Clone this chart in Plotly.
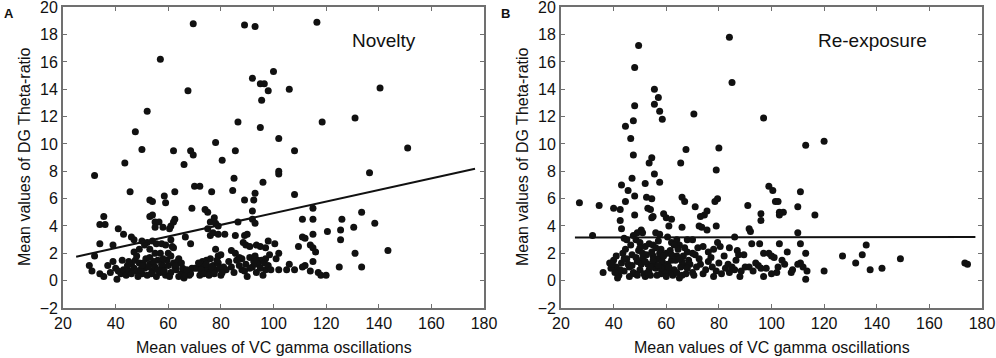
import plotly.graph_objects as go

# ---------------- DATA ----------------
x_ticks = [20, 40, 60, 80, 100, 120, 140, 160, 180]
y_ticks = [-2, 0, 2, 4, 6, 8, 10, 12, 14, 16, 18, 20]

novelty_points = [
    (69.5, 18.8), (89, 18.7), (93, 18.6), (116.5, 18.9), (57, 16.2),
    (100, 15.3), (92, 14.8), (95, 14.4), (96.5, 14.4), (98, 13.9), (67.5, 13.9), (106, 14.0),
    (140.5, 14.1), (95.5, 13.2), (52, 12.4), (131, 11.9), (118.5, 11.6), (86.5, 11.6), (95, 11.2),
    (47.5, 10.9), (102, 10.4), (78, 10.1), (50, 9.6), (68.5, 9.5), (69.5, 9.2), (62, 9.5),
    (85.5, 9.5), (108, 9.5), (151, 9.7), (43.5, 8.6), (66, 8.5), (80.5, 8.8), (32, 7.7),
    (102, 8.0), (102, 7.8), (85, 7.5), (136.5, 7.9), (96, 7.2), (70, 6.9), (72, 6.9),
    (45.5, 6.5), (62.5, 6.5), (76.5, 6.5), (84.5, 6.6), (93, 6.4), (108, 6.3),
    (53, 5.9), (54, 5.8), (58.5, 6.2), (59, 5.7), (89, 5.9), (92.5, 5.9), (69, 5.3), (74, 5.2),
    (75, 5.0), (92, 5.1), (115, 5.3), (133.5, 5.0),
    (35.5, 4.7), (34, 4.1), (36, 4.1), (53, 4.7), (54, 4.8), (55, 4.3), (56.5, 4.3), (58, 3.9),
    (55, 3.9), (62.5, 4.5), (62, 4.3), (61, 4.0), (60.5, 3.8), (76, 4.3), (77.5, 4.6), (78, 4.2),
    (79, 4.0), (75, 3.8), (86.5, 4.3), (92, 4.5), (93, 4.2), (111, 4.5), (115, 4.5), (126, 4.5),
    (138.5, 4.2), (130.5, 3.9), (41, 3.8), (43, 3.4), (120.5, 3.6), (125.5, 3.7), (115, 3.4),
    (34, 2.7), (39, 2.6), (46, 3.2), (47, 3.0), (50, 2.9), (52, 2.8), (54, 2.9), (55.5, 2.7),
    (57.5, 2.7), (59, 2.6), (61, 3.0), (61.5, 2.5), (66.5, 3.2), (68.5, 2.7), (76, 3.3), (77, 3.5),
    (79, 3.4), (81.5, 3.4), (85.5, 3.3), (89, 3.3), (90, 3.4), (88.5, 2.8), (89.5, 2.6), (91, 2.5),
    (93.5, 2.6), (95, 2.5), (97, 2.4), (98, 2.9), (100.5, 2.7), (111, 3.2), (112, 3.1), (109.5, 2.5),
    (114, 2.6), (115, 2.4), (125.5, 3.0), (112, 1.1), (111, 1.0), (116, 2.1),
    (32, 1.8), (47, 2.1), (49, 2.3), (51, 2.6), (53, 2.3), (57, 2.0), (60, 2.0), (62, 2.4),
    (64, 1.6), (73, 1.4), (74.5, 1.5), (76, 1.6), (78, 2.3), (79, 1.8), (80, 1.9), (84, 2.2),
    (85.5, 2.0), (87, 1.7), (88, 1.6), (91, 1.7), (93, 1.8), (94, 1.5), (95.5, 1.5), (97, 1.6),
    (98.5, 1.9), (102, 2.0), (101, 1.6), (131, 2.0), (143.5, 2.2), (115, 1.4),
    (30, 1.1), (31, 0.7), (34, 0.5), (35.5, 0.3), (37, 1.1), (38, 0.6), (39, 1.4), (40, 0.9),
    (40.5, 0.1), (41, 0.7), (42, 0.5), (43, 0.8), (44, 0.4), (45, 0.7), (46, 1.2), (47, 0.9),
    (47.5, 1.5), (48, 0.7), (49, 1.3), (50, 0.5), (51, 0.9), (51.5, 1.6), (52, 0.4), (53, 1.2),
    (54, 0.7), (55, 1.0), (55.5, 0.3), (56, 1.5), (57, 0.6), (58, 0.9), (59, 0.4), (60, 1.1),
    (61, 0.6), (62, 1.3), (63, 0.8), (64, 0.3), (65, 0.5), (66, 0.2), (67, 0.6), (68, 0.4),
    (69, 0.9), (70, 0.9), (71, 0.9), (72, 0.4), (73, 1.0), (74, 0.7), (75, 0.9), (76, 0.6),
    (77, 1.1), (78, 0.8), (79, 1.3), (80, 0.4), (81, 1.0), (82, 0.8), (84, 1.0), (86, 1.5),
    (88, 0.8), (89, 0.7), (90, 0.3), (92, 1.0), (94, 1.2), (96, 0.4), (97, 0.8), (102, 0.8),
    (105, 0.8), (106, 1.2), (108, 0.8), (117, 0.6), (118, 0.4), (120, 0.4), (125, 1.0),
    (133.5, 1.0), (114, 0.7),
    (42.5, 1.5), (44.5, 1.1), (46, 0.5), (48.5, 0.3), (49.5, 0.8), (50.5, 1.3), (52.5, 1.0),
    (53.5, 0.5), (54.5, 1.4), (56, 0.8), (57.5, 1.2), (58.5, 0.7), (59.5, 1.5), (60.5, 0.3),
    (62.5, 1.0), (63.5, 1.4), (65.5, 0.9), (66.5, 0.4), (68.5, 0.5), (71.5, 1.3), (72.5, 0.8),
    (73.5, 0.5), (74.5, 1.2), (75.5, 0.4), (76.5, 1.0), (77.5, 0.5), (78.5, 1.5), (79.5, 0.9),
    (80.5, 0.6), (83, 1.4), (85, 0.6), (87, 1.1), (89.5, 1.2), (91, 0.9), (92.5, 1.4), (93.5, 0.6),
    (95, 0.9), (96.5, 1.3), (98, 1.1), (99, 0.8), (53, 1.7), (55, 2.0), (50, 1.1), (48, 1.8),
    (45, 1.4), (58, 1.6), (61, 1.8), (63, 1.1), (65, 1.3), (67, 0.8),
]

reexposure_points = [
    (84, 17.8), (49.5, 17.2), (48, 15.6), (85, 14.5), (55.5, 14.0), (57, 13.4), (55.5, 12.9),
    (48, 12.8), (57.5, 12.4), (70.5, 12.2), (97, 11.9), (58.5, 11.8), (47.5, 11.7), (44.5, 11.3),
    (46.5, 10.4), (120, 10.2), (113, 9.9), (80, 9.7), (67.5, 9.6), (47.5, 9.2), (54.5, 9.0),
    (53.5, 8.6), (65.5, 8.6), (79, 8.1), (55.5, 7.8), (47, 7.5), (57.5, 7.2), (43, 7.0), (52, 7.1),
    (99, 6.9), (100.5, 6.6), (45.5, 6.6), (111, 6.5), (66, 6.1), (48, 6.2), (52.5, 6.1), (54.5, 6.0),
    (27, 5.7), (67, 5.8), (78.5, 5.8), (79.5, 6.0), (101.5, 5.8), (102.5, 5.8), (44.5, 5.8),
    (34.5, 5.5), (91, 5.5), (71, 5.4), (110, 5.4), (40, 5.3), (42.5, 5.2), (53, 5.3), (54, 5.2),
    (75.5, 5.1), (74.5, 4.8), (73, 4.7), (96, 4.9), (103, 5.0), (104.5, 5.0), (103, 4.8),
    (116.5, 4.8), (59, 4.9), (48, 4.8), (54.5, 4.6), (55, 4.7), (60, 4.6), (62, 4.5), (42.5, 4.4),
    (96, 4.4), (61, 4.0), (66, 3.9), (72.5, 4.0), (73.5, 3.9), (75.5, 3.7), (79, 4.0), (91.5, 3.8),
    (92, 3.6), (110, 3.5), (43, 3.8), (49, 3.5), (50.5, 3.7), (51, 3.5), (56, 3.5), (57.5, 3.4),
    (47.5, 3.3), (32, 3.3), (60.5, 3.2), (86, 3.2),
    (44, 3.1), (45, 3.0), (48.5, 3.0), (50, 2.8), (52, 2.5), (53.5, 2.7), (55, 2.6), (57, 2.9),
    (58, 2.3), (62, 2.8), (64, 3.0), (65, 2.6), (68, 3.0), (70, 3.0), (72, 2.4), (74, 2.5),
    (78, 2.3), (79.5, 2.8), (80.5, 2.5), (84, 2.4), (87, 2.2), (87.5, 1.9), (92.5, 2.7), (95.5, 2.7),
    (97, 2.0), (99, 2.0), (100, 1.8), (101, 1.7), (103, 2.7), (104, 1.5), (106, 2.1), (111, 2.7),
    (113, 2.0), (136, 2.6), (127, 1.8), (134.5, 1.9), (132, 1.3), (137.5, 0.8), (142, 0.9),
    (149, 1.6), (120, 0.7), (173.5, 1.3), (174.5, 1.2), (113, 0.1), (111, 1.3), (112, 1.0),
    (110, 1.2), (108, 0.8), (107.5, 0.6), (105, 1.2), (102, 0.6), (102.5, 1.0), (100, 0.5),
    (97, 0.3), (96, 0.9), (95, 1.1), (93, 0.7), (90, 1.0), (88, 0.3), (86, 0.8), (85, 1.0),
    (84, 0.6), (82.5, 0.9), (81, 0.5), (79, 0.7), (78, 0.3), (77, 1.7), (76, 1.4), (75, 0.8),
    (73, 1.2), (71, 1.9), (70, 0.6), (68.5, 1.5), (67, 1.1), (66, 0.4), (65, 0.2), (64, 1.8),
    (63, 0.8), (62, 1.5), (61, 0.6), (60, 2.0), (59, 1.1), (58, 0.5), (57, 1.6), (56, 0.9),
    (55, 1.8), (54, 0.4), (53, 1.2), (52, 0.3), (51, 1.6), (50, 0.8), (49, 1.4), (48, 0.5),
    (47, 1.9), (46, 1.0), (45, 1.6), (44, 0.7), (43, 1.3), (42, 0.4), (41.5, 0.2), (41, 1.0),
    (40, 1.5), (39, 0.9), (38.5, 1.3), (36, 0.6), (113.5, 0.7),
    (42.5, 0.8), (43.5, 2.0), (44.5, 2.3), (45.5, 1.2), (46.5, 2.6), (47.5, 0.6), (48.5, 1.7),
    (49.5, 2.2), (50.5, 1.2), (51.5, 0.5), (52.5, 1.9), (53.5, 0.8), (54.5, 2.1), (55.5, 1.3),
    (56.5, 0.4), (57.5, 2.0), (58.5, 1.4), (59.5, 0.7), (60.5, 1.2), (61.5, 2.2), (62.5, 0.4),
    (63.5, 1.5), (64.5, 2.3), (65.5, 1.0), (66.5, 1.8), (67.5, 0.5), (68, 2.1), (69, 1.2),
    (70.5, 0.4), (71.5, 1.0), (72.5, 1.6), (74, 0.5), (76, 2.1), (77.5, 1.0), (80, 1.3), (82, 1.8),
    (83.5, 1.2), (86.5, 1.5), (88.5, 0.7), (89.5, 1.9), (91.5, 1.0), (94, 1.3), (98, 0.9),
    (41, 1.8), (40.5, 0.6), (39.5, 1.2), (44, 1.6), (46, 0.3), (50, 2.4), (52, 1.4), (54, 1.0),
    (56, 2.4), (58, 0.9), (60, 0.3), (62, 1.9), (64, 0.6), (66, 1.4), (68, 0.9), (70, 2.0),
    (47, 1.1), (49, 0.4), (51, 2.0), (53, 0.6), (55, 1.5), (57, 1.1), (59, 1.8), (61, 1.0),
    (63, 2.6), (65, 1.6), (67, 2.4),
]

novelty_fit_x = [25, 176.6]
novelty_fit_y = [1.75, 8.18]
reexposure_fit_x = [25.3, 177.5]
reexposure_fit_y = [3.16, 3.2]

panel_labels = ["A", "B"]
panel_titles = ["Novelty", "Re-exposure"]
x_title = "Mean values of VC gamma oscillations"
y_title = "Mean values of DG Theta-ratio"

# ---------------- FIGURE ----------------
FONT = "Liberation Sans, Arial, sans-serif"
fig = go.Figure()

panels = [
    (novelty_points, novelty_fit_x, novelty_fit_y, "x", "y"),
    (reexposure_points, reexposure_fit_x, reexposure_fit_y, "x2", "y2"),
]
for pts, fx, fy, xa, ya in panels:
    fig.add_trace(go.Scatter(
        x=[p[0] for p in pts], y=[p[1] for p in pts], mode="markers",
        marker=dict(size=7, color="#111111", line=dict(width=0)),
        xaxis=xa, yaxis=ya, showlegend=False, hoverinfo="x+y"))
    fig.add_trace(go.Scatter(
        x=fx, y=fy, mode="lines", line=dict(color="#111111", width=2),
        xaxis=xa, yaxis=ya, showlegend=False))

H = 358
W = 996
ydom = [1 - 308 / H, 1 - 7 / H]
xdoms = [[63 / W, 484 / W], [561 / W, 982 / W]]

axis_common = dict(
    showgrid=False, zeroline=False, showline=True, linecolor="#707070", linewidth=1.8,
    mirror="ticks", ticks="inside", ticklen=4, tickwidth=1, tickcolor="#707070",
    ticklabeloverflow="allow", automargin=False,
    tickfont=dict(family=FONT, size=16, color="#111111"),
)
yticktext = [str(v).replace("-", "\u2212") for v in y_ticks]

fig.update_layout(
    width=W, height=H, margin=dict(l=0, r=0, t=0, b=0),
    paper_bgcolor="white", plot_bgcolor="white",
    font=dict(family=FONT, color="#111111"),
    xaxis=dict(domain=xdoms[0], range=[20, 180.01], tickvals=x_ticks, anchor="y", **axis_common),
    yaxis=dict(domain=ydom, range=[-2, 20.02], tickvals=y_ticks, ticktext=yticktext,
               anchor="x", **axis_common),
    xaxis2=dict(domain=xdoms[1], range=[20, 180.01], tickvals=x_ticks, anchor="y2", **axis_common),
    yaxis2=dict(domain=ydom, range=[-2, 20.02], tickvals=y_ticks, ticktext=yticktext,
                anchor="x2", **axis_common),
)

# axis titles as annotations for precise placement
for xc, ycx in zip([273.5, 771.5], [24, 522]):
    fig.add_annotation(text=x_title, x=xc / W, y=1 - 347 / H, xref="paper", yref="paper",
                       xanchor="center", yanchor="middle", showarrow=False,
                       font=dict(family=FONT, size=16, color="#111111"))
    fig.add_annotation(text=y_title, x=ycx / W, y=1 - 157 / H, xref="paper", yref="paper",
                       xanchor="center", yanchor="middle", showarrow=False, textangle=-90,
                       font=dict(family=FONT, size=16, color="#111111"))

# panel letters
for lbl, xp in zip(panel_labels, [2 / W, 499 / W]):
    fig.add_annotation(text="<b>%s</b>" % lbl, x=xp, y=1 - 4 / H, xref="paper", yref="paper",
                       xanchor="left", yanchor="top", showarrow=False,
                       font=dict(family=FONT, size=13, color="#111111"))

# panel titles
for t, xr, yr, xp in zip(panel_titles, ["x domain", "x2 domain"], ["y domain", "y2 domain"],
                         [(350 - 63) / 421, (816 - 561) / 421]):
    fig.add_annotation(text=t, x=xp, y=1 - (41 - 7) / 301, xref=xr, yref=yr,
                       xanchor="left", yanchor="middle", showarrow=False,
                       font=dict(family=FONT, size=19, color="#111111"))

# remove the browser's default 8px page margin so the figure sits at the window's corner
fig.write_html("out.html", config={"displayModeBar": False},
               post_script="document.body.style.margin='0';")
